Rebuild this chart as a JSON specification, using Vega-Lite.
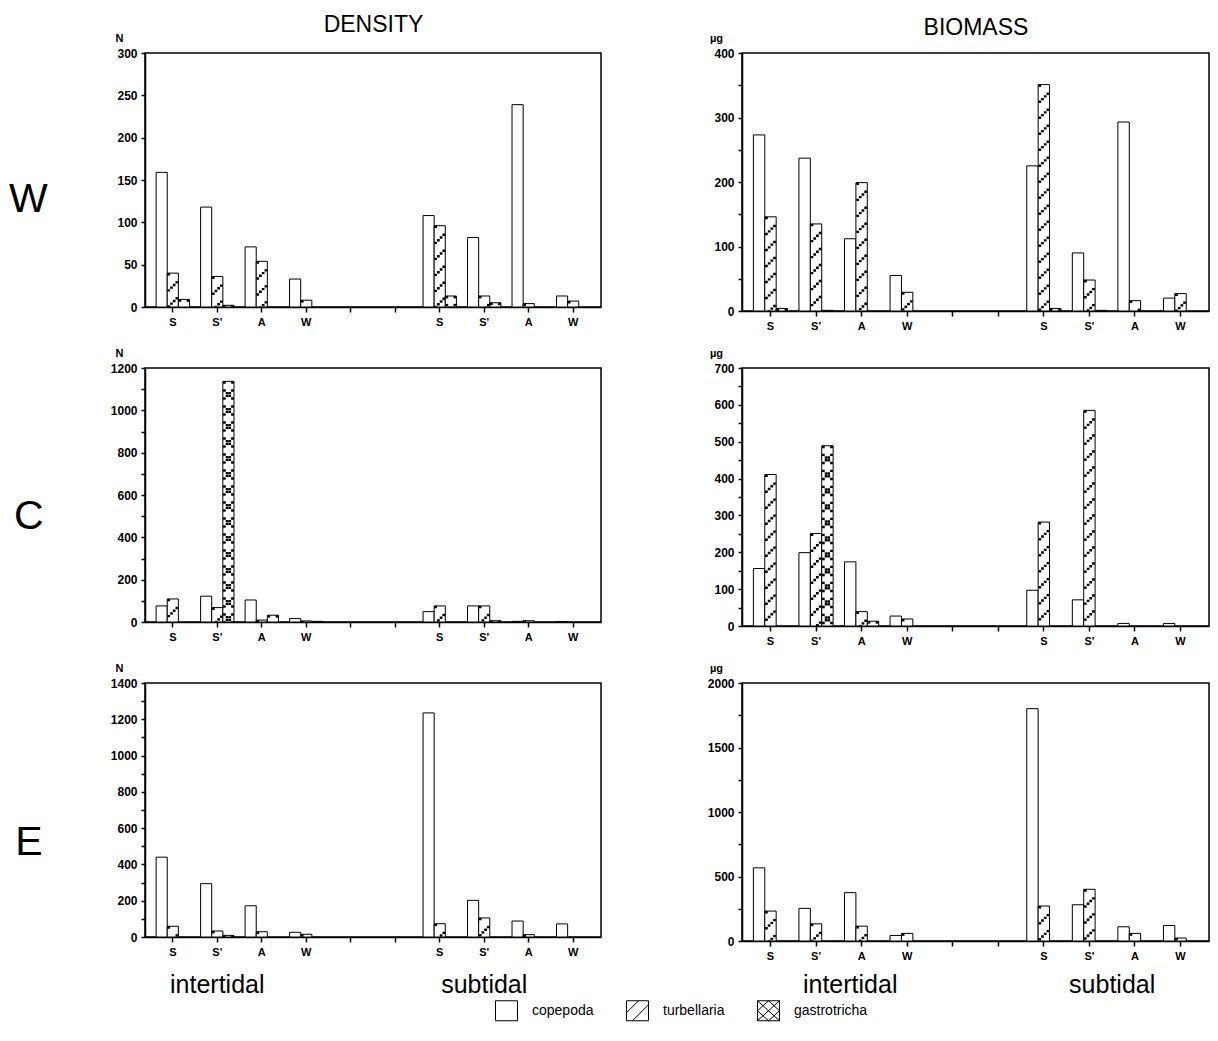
{
"$schema": "https://vega.github.io/schema/vega-lite/v6.json",
"background": "white",
"padding": {"left": 8, "top": 12, "right": 8, "bottom": 10},
"columns": 2,
"spacing": {"row": 57, "column": 130},
"bounds": "flush",
"align": "all",
"datasets": {
"DW": [
{"key":"I|S|c","taxon":"copepoda","value":159},{"key":"I|S|t","taxon":"turbellaria","value":40},{"key":"I|S|g","taxon":"gastrotricha","value":9},
{"key":"I|S'|c","taxon":"copepoda","value":118},{"key":"I|S'|t","taxon":"turbellaria","value":36},{"key":"I|S'|g","taxon":"gastrotricha","value":2},
{"key":"I|A|c","taxon":"copepoda","value":71},{"key":"I|A|t","taxon":"turbellaria","value":54},
{"key":"I|W|c","taxon":"copepoda","value":33},{"key":"I|W|t","taxon":"turbellaria","value":8},
{"key":"U|S|c","taxon":"copepoda","value":108},{"key":"U|S|t","taxon":"turbellaria","value":96},{"key":"U|S|g","taxon":"gastrotricha","value":13},
{"key":"U|S'|c","taxon":"copepoda","value":82},{"key":"U|S'|t","taxon":"turbellaria","value":13},{"key":"U|S'|g","taxon":"gastrotricha","value":5},
{"key":"U|A|c","taxon":"copepoda","value":239},{"key":"U|A|t","taxon":"turbellaria","value":4},
{"key":"U|W|c","taxon":"copepoda","value":13},{"key":"U|W|t","taxon":"turbellaria","value":7}
],
"DC": [
{"key":"I|S|c","taxon":"copepoda","value":76},{"key":"I|S|t","taxon":"turbellaria","value":109},
{"key":"I|S'|c","taxon":"copepoda","value":122},{"key":"I|S'|t","taxon":"turbellaria","value":68},{"key":"I|S'|g","taxon":"gastrotricha","value":1137},
{"key":"I|A|c","taxon":"copepoda","value":104},{"key":"I|A|t","taxon":"turbellaria","value":9},{"key":"I|A|g","taxon":"gastrotricha","value":32},
{"key":"I|W|c","taxon":"copepoda","value":16},{"key":"I|W|t","taxon":"turbellaria","value":5},{"key":"I|W|g","taxon":"gastrotricha","value":3},
{"key":"U|S|c","taxon":"copepoda","value":49},{"key":"U|S|t","taxon":"turbellaria","value":76},
{"key":"U|S'|c","taxon":"copepoda","value":76},{"key":"U|S'|t","taxon":"turbellaria","value":76},{"key":"U|S'|g","taxon":"gastrotricha","value":6},
{"key":"U|A|c","taxon":"copepoda","value":3},{"key":"U|A|t","taxon":"turbellaria","value":6},
{"key":"U|W|c","taxon":"copepoda","value":2}
],
"DE": [
{"key":"I|S|c","taxon":"copepoda","value":440},{"key":"I|S|t","taxon":"turbellaria","value":59},
{"key":"I|S'|c","taxon":"copepoda","value":294},{"key":"I|S'|t","taxon":"turbellaria","value":33},{"key":"I|S'|g","taxon":"gastrotricha","value":9},
{"key":"I|A|c","taxon":"copepoda","value":172},{"key":"I|A|t","taxon":"turbellaria","value":29},
{"key":"I|W|c","taxon":"copepoda","value":26},{"key":"I|W|t","taxon":"turbellaria","value":15},
{"key":"U|S|c","taxon":"copepoda","value":1235},{"key":"U|S|t","taxon":"turbellaria","value":73},
{"key":"U|S'|c","taxon":"copepoda","value":202},{"key":"U|S'|t","taxon":"turbellaria","value":105},
{"key":"U|A|c","taxon":"copepoda","value":88},{"key":"U|A|t","taxon":"turbellaria","value":13},
{"key":"U|W|c","taxon":"copepoda","value":72},
{"key":"I|S'|t","taxon":"zone","value":0,"label":"intertidal"},{"key":"U|S'|t","taxon":"zone","value":0,"label":"subtidal"}
],
"BW": [
{"key":"I|S|c","taxon":"copepoda","value":273},{"key":"I|S|t","taxon":"turbellaria","value":146},{"key":"I|S|g","taxon":"gastrotricha","value":4},
{"key":"I|S'|c","taxon":"copepoda","value":237},{"key":"I|S'|t","taxon":"turbellaria","value":135},{"key":"I|S'|g","taxon":"gastrotricha","value":1},
{"key":"I|A|c","taxon":"copepoda","value":112},{"key":"I|A|t","taxon":"turbellaria","value":199},
{"key":"I|W|c","taxon":"copepoda","value":55},{"key":"I|W|t","taxon":"turbellaria","value":29},
{"key":"U|S|c","taxon":"copepoda","value":225},{"key":"U|S|t","taxon":"turbellaria","value":351},{"key":"U|S|g","taxon":"gastrotricha","value":4},
{"key":"U|S'|c","taxon":"copepoda","value":90},{"key":"U|S'|t","taxon":"turbellaria","value":48},{"key":"U|S'|g","taxon":"gastrotricha","value":1},
{"key":"U|A|c","taxon":"copepoda","value":293},{"key":"U|A|t","taxon":"turbellaria","value":16},
{"key":"U|W|c","taxon":"copepoda","value":20},{"key":"U|W|t","taxon":"turbellaria","value":27}
],
"BC": [
{"key":"I|S|c","taxon":"copepoda","value":156},{"key":"I|S|t","taxon":"turbellaria","value":411},
{"key":"I|S'|c","taxon":"copepoda","value":199},{"key":"I|S'|t","taxon":"turbellaria","value":251},{"key":"I|S'|g","taxon":"gastrotricha","value":489},
{"key":"I|A|c","taxon":"copepoda","value":174},{"key":"I|A|t","taxon":"turbellaria","value":39},{"key":"I|A|g","taxon":"gastrotricha","value":13},
{"key":"I|W|c","taxon":"copepoda","value":27},{"key":"I|W|t","taxon":"turbellaria","value":19},
{"key":"U|S|c","taxon":"copepoda","value":97},{"key":"U|S|t","taxon":"turbellaria","value":282},
{"key":"U|S'|c","taxon":"copepoda","value":71},{"key":"U|S'|t","taxon":"turbellaria","value":585},
{"key":"U|A|c","taxon":"copepoda","value":7},
{"key":"U|W|c","taxon":"copepoda","value":7}
],
"BE": [
{"key":"I|S|c","taxon":"copepoda","value":567},{"key":"I|S|t","taxon":"turbellaria","value":232},
{"key":"I|S'|c","taxon":"copepoda","value":253},{"key":"I|S'|t","taxon":"turbellaria","value":133},
{"key":"I|A|c","taxon":"copepoda","value":375},{"key":"I|A|t","taxon":"turbellaria","value":115},
{"key":"I|W|c","taxon":"copepoda","value":43},{"key":"I|W|t","taxon":"turbellaria","value":59},
{"key":"U|S|c","taxon":"copepoda","value":1801},{"key":"U|S|t","taxon":"turbellaria","value":271},
{"key":"U|S'|c","taxon":"copepoda","value":281},{"key":"U|S'|t","taxon":"turbellaria","value":401},
{"key":"U|A|c","taxon":"copepoda","value":110},{"key":"U|A|t","taxon":"turbellaria","value":59},
{"key":"U|W|c","taxon":"copepoda","value":120},{"key":"U|W|t","taxon":"turbellaria","value":23},
{"key":"I|A|c","taxon":"zone","value":0,"label":"intertidal"},{"key":"U|S'|x","taxon":"zone","value":0,"label":"subtidal"}
]
},
"concat": [
{
"width": 456, "height": 254,
"title": {"text": "W", "orient": "left", "angle": 0, "fontSize": 41, "fontWeight": "normal", "offset": 48, "align": "center", "baseline": "middle", "dy": 20},
"data": {"name": "DW"},
"encoding": {
"x": {"field": "key", "type": "nominal", "scale": {"domain": ["I|S|c","I|S|t","I|S|g","I|S|x","I|S'|c","I|S'|t","I|S'|g","I|S'|x","I|A|c","I|A|t","I|A|g","I|A|x","I|W|c","I|W|t","I|W|g","I|W|x","G|1|c","G|1|t","G|1|g","G|1|x","G|2|c","G|2|t","G|2|g","G|2|x","U|S|c","U|S|t","U|S|g","U|S|x","U|S'|c","U|S'|t","U|S'|g","U|S'|x","U|A|c","U|A|t","U|A|g","U|A|x","U|W|c","U|W|t","U|W|g"], "paddingInner": 0, "paddingOuter": 1.3},
 "axis": {"values": ["I|S|t","I|S'|t","I|A|t","I|W|t","G|1|t","G|2|t","U|S|t","U|S'|t","U|A|t","U|W|t"], "labelExpr": "indexof(datum.value,'G')==0 ? '' : split(datum.value,'|')[1]", "title": "DENSITY", "titleY": -276, "titleFontSize": 23, "titleFontWeight": "normal", "titleBaseline": "alphabetic"}},
"y": {"field": "value", "type": "quantitative", "scale": {"domain": [0, 300], "nice": false},
 "axis": {"values": [0,50,100,150,200,250,300], "format": "d", "title": "N", "titleAngle": 0, "titleX": -26, "titleY": -12, "titleAlign": "center", "titleBaseline": "alphabetic", "titleFontSize": 11, "titleFontWeight": "bold"}}
},
"layer": [
{"mark": {"type": "bar", "fill": "white", "stroke": "black", "strokeWidth": 1}},
{"transform": [{"filter": "datum.taxon == 'turbellaria' || datum.taxon == 'gastrotricha'"}], "mark": {"type": "rule", "color": "black", "strokeWidth": 2.7, "strokeCap": "butt", "strokeDash": [2.4, 13.6], "strokeDashOffset": 0, "xOffset": -4.05}, "encoding": {"y2": {"datum": 0}}},
{"transform": [{"filter": "datum.taxon == 'turbellaria' || datum.taxon == 'gastrotricha'"}], "mark": {"type": "rule", "color": "black", "strokeWidth": 2.7, "strokeCap": "butt", "strokeDash": [2.4, 13.6], "strokeDashOffset": 2.7, "xOffset": -1.35}, "encoding": {"y2": {"datum": 0}}},
{"transform": [{"filter": "datum.taxon == 'turbellaria' || datum.taxon == 'gastrotricha'"}], "mark": {"type": "rule", "color": "black", "strokeWidth": 2.7, "strokeCap": "butt", "strokeDash": [2.4, 13.6], "strokeDashOffset": 5.4, "xOffset": 1.35}, "encoding": {"y2": {"datum": 0}}},
{"transform": [{"filter": "datum.taxon == 'turbellaria' || datum.taxon == 'gastrotricha'"}], "mark": {"type": "rule", "color": "black", "strokeWidth": 2.7, "strokeCap": "butt", "strokeDash": [2.4, 13.6], "strokeDashOffset": 8.1, "xOffset": 4.05}, "encoding": {"y2": {"datum": 0}}},
{"transform": [{"filter": "datum.taxon == 'gastrotricha'"}], "mark": {"type": "rule", "color": "black", "strokeWidth": 2.7, "strokeCap": "butt", "strokeDash": [2.4, 13.6], "strokeDashOffset": 8.1, "xOffset": -4.05}, "encoding": {"y2": {"datum": 0}}},
{"transform": [{"filter": "datum.taxon == 'gastrotricha'"}], "mark": {"type": "rule", "color": "black", "strokeWidth": 2.7, "strokeCap": "butt", "strokeDash": [2.4, 13.6], "strokeDashOffset": 5.4, "xOffset": -1.35}, "encoding": {"y2": {"datum": 0}}},
{"transform": [{"filter": "datum.taxon == 'gastrotricha'"}], "mark": {"type": "rule", "color": "black", "strokeWidth": 2.7, "strokeCap": "butt", "strokeDash": [2.4, 13.6], "strokeDashOffset": 2.7, "xOffset": 1.35}, "encoding": {"y2": {"datum": 0}}},
{"transform": [{"filter": "datum.taxon == 'gastrotricha'"}], "mark": {"type": "rule", "color": "black", "strokeWidth": 2.7, "strokeCap": "butt", "strokeDash": [2.4, 13.6], "strokeDashOffset": 0, "xOffset": 4.05}, "encoding": {"y2": {"datum": 0}}}
]
},
{
"width": 467, "height": 258,
"data": {"name": "BW"},
"encoding": {
"x": {"field": "key", "type": "nominal", "scale": {"domain": ["I|S|c","I|S|t","I|S|g","I|S|x","I|S'|c","I|S'|t","I|S'|g","I|S'|x","I|A|c","I|A|t","I|A|g","I|A|x","I|W|c","I|W|t","I|W|g","I|W|x","G|1|c","G|1|t","G|1|g","G|1|x","G|2|c","G|2|t","G|2|g","G|2|x","U|S|c","U|S|t","U|S|g","U|S|x","U|S'|c","U|S'|t","U|S'|g","U|S'|x","U|A|c","U|A|t","U|A|g","U|A|x","U|W|c","U|W|t","U|W|g"], "paddingInner": 0, "paddingOuter": 1.3},
 "axis": {"values": ["I|S|t","I|S'|t","I|A|t","I|W|t","G|1|t","G|2|t","U|S|t","U|S'|t","U|A|t","U|W|t"], "labelExpr": "indexof(datum.value,'G')==0 ? '' : split(datum.value,'|')[1]", "title": "BIOMASS", "titleY": -277, "titleFontSize": 23, "titleFontWeight": "normal", "titleBaseline": "alphabetic"}},
"y": {"field": "value", "type": "quantitative", "scale": {"domain": [0, 400], "nice": false},
 "axis": {"values": [0,50,100,150,200,250,300,350,400], "format": "d", "labelExpr": "datum.value % 100 == 0 ? datum.label : ''", "title": "µg", "titleAngle": 0, "titleX": -26, "titleY": -12, "titleAlign": "center", "titleBaseline": "alphabetic", "titleFontSize": 11, "titleFontWeight": "bold"}}
},
"layer": [
{"mark": {"type": "bar", "fill": "white", "stroke": "black", "strokeWidth": 1}},
{"transform": [{"filter": "datum.taxon == 'turbellaria' || datum.taxon == 'gastrotricha'"}], "mark": {"type": "rule", "color": "black", "strokeWidth": 2.7, "strokeCap": "butt", "strokeDash": [2.4, 13.6], "strokeDashOffset": 0, "xOffset": -4.05}, "encoding": {"y2": {"datum": 0}}},
{"transform": [{"filter": "datum.taxon == 'turbellaria' || datum.taxon == 'gastrotricha'"}], "mark": {"type": "rule", "color": "black", "strokeWidth": 2.7, "strokeCap": "butt", "strokeDash": [2.4, 13.6], "strokeDashOffset": 2.7, "xOffset": -1.35}, "encoding": {"y2": {"datum": 0}}},
{"transform": [{"filter": "datum.taxon == 'turbellaria' || datum.taxon == 'gastrotricha'"}], "mark": {"type": "rule", "color": "black", "strokeWidth": 2.7, "strokeCap": "butt", "strokeDash": [2.4, 13.6], "strokeDashOffset": 5.4, "xOffset": 1.35}, "encoding": {"y2": {"datum": 0}}},
{"transform": [{"filter": "datum.taxon == 'turbellaria' || datum.taxon == 'gastrotricha'"}], "mark": {"type": "rule", "color": "black", "strokeWidth": 2.7, "strokeCap": "butt", "strokeDash": [2.4, 13.6], "strokeDashOffset": 8.1, "xOffset": 4.05}, "encoding": {"y2": {"datum": 0}}},
{"transform": [{"filter": "datum.taxon == 'gastrotricha'"}], "mark": {"type": "rule", "color": "black", "strokeWidth": 2.7, "strokeCap": "butt", "strokeDash": [2.4, 13.6], "strokeDashOffset": 8.1, "xOffset": -4.05}, "encoding": {"y2": {"datum": 0}}},
{"transform": [{"filter": "datum.taxon == 'gastrotricha'"}], "mark": {"type": "rule", "color": "black", "strokeWidth": 2.7, "strokeCap": "butt", "strokeDash": [2.4, 13.6], "strokeDashOffset": 5.4, "xOffset": -1.35}, "encoding": {"y2": {"datum": 0}}},
{"transform": [{"filter": "datum.taxon == 'gastrotricha'"}], "mark": {"type": "rule", "color": "black", "strokeWidth": 2.7, "strokeCap": "butt", "strokeDash": [2.4, 13.6], "strokeDashOffset": 2.7, "xOffset": 1.35}, "encoding": {"y2": {"datum": 0}}},
{"transform": [{"filter": "datum.taxon == 'gastrotricha'"}], "mark": {"type": "rule", "color": "black", "strokeWidth": 2.7, "strokeCap": "butt", "strokeDash": [2.4, 13.6], "strokeDashOffset": 0, "xOffset": 4.05}, "encoding": {"y2": {"datum": 0}}}
]
},
{
"width": 456, "height": 254,
"title": {"text": "C", "orient": "left", "angle": 0, "fontSize": 41, "fontWeight": "normal", "offset": 52, "align": "center", "baseline": "middle", "dy": 22},
"data": {"name": "DC"},
"encoding": {
"x": {"field": "key", "type": "nominal", "scale": {"domain": ["I|S|c","I|S|t","I|S|g","I|S|x","I|S'|c","I|S'|t","I|S'|g","I|S'|x","I|A|c","I|A|t","I|A|g","I|A|x","I|W|c","I|W|t","I|W|g","I|W|x","G|1|c","G|1|t","G|1|g","G|1|x","G|2|c","G|2|t","G|2|g","G|2|x","U|S|c","U|S|t","U|S|g","U|S|x","U|S'|c","U|S'|t","U|S'|g","U|S'|x","U|A|c","U|A|t","U|A|g","U|A|x","U|W|c","U|W|t","U|W|g"], "paddingInner": 0, "paddingOuter": 1.3},
 "axis": {"values": ["I|S|t","I|S'|t","I|A|t","I|W|t","G|1|t","G|2|t","U|S|t","U|S'|t","U|A|t","U|W|t"], "labelExpr": "indexof(datum.value,'G')==0 ? '' : split(datum.value,'|')[1]", "title": null}},
"y": {"field": "value", "type": "quantitative", "scale": {"domain": [0, 1200], "nice": false},
 "axis": {"values": [0,100,200,300,400,500,600,700,800,900,1000,1100,1200], "format": "d", "labelExpr": "datum.value % 200 == 0 ? datum.label : ''", "title": "N", "titleAngle": 0, "titleX": -26, "titleY": -12, "titleAlign": "center", "titleBaseline": "alphabetic", "titleFontSize": 11, "titleFontWeight": "bold"}}
},
"layer": [
{"mark": {"type": "bar", "fill": "white", "stroke": "black", "strokeWidth": 1}},
{"transform": [{"filter": "datum.taxon == 'turbellaria' || datum.taxon == 'gastrotricha'"}], "mark": {"type": "rule", "color": "black", "strokeWidth": 2.7, "strokeCap": "butt", "strokeDash": [2.4, 13.6], "strokeDashOffset": 0, "xOffset": -4.05}, "encoding": {"y2": {"datum": 0}}},
{"transform": [{"filter": "datum.taxon == 'turbellaria' || datum.taxon == 'gastrotricha'"}], "mark": {"type": "rule", "color": "black", "strokeWidth": 2.7, "strokeCap": "butt", "strokeDash": [2.4, 13.6], "strokeDashOffset": 2.7, "xOffset": -1.35}, "encoding": {"y2": {"datum": 0}}},
{"transform": [{"filter": "datum.taxon == 'turbellaria' || datum.taxon == 'gastrotricha'"}], "mark": {"type": "rule", "color": "black", "strokeWidth": 2.7, "strokeCap": "butt", "strokeDash": [2.4, 13.6], "strokeDashOffset": 5.4, "xOffset": 1.35}, "encoding": {"y2": {"datum": 0}}},
{"transform": [{"filter": "datum.taxon == 'turbellaria' || datum.taxon == 'gastrotricha'"}], "mark": {"type": "rule", "color": "black", "strokeWidth": 2.7, "strokeCap": "butt", "strokeDash": [2.4, 13.6], "strokeDashOffset": 8.1, "xOffset": 4.05}, "encoding": {"y2": {"datum": 0}}},
{"transform": [{"filter": "datum.taxon == 'gastrotricha'"}], "mark": {"type": "rule", "color": "black", "strokeWidth": 2.7, "strokeCap": "butt", "strokeDash": [2.4, 13.6], "strokeDashOffset": 8.1, "xOffset": -4.05}, "encoding": {"y2": {"datum": 0}}},
{"transform": [{"filter": "datum.taxon == 'gastrotricha'"}], "mark": {"type": "rule", "color": "black", "strokeWidth": 2.7, "strokeCap": "butt", "strokeDash": [2.4, 13.6], "strokeDashOffset": 5.4, "xOffset": -1.35}, "encoding": {"y2": {"datum": 0}}},
{"transform": [{"filter": "datum.taxon == 'gastrotricha'"}], "mark": {"type": "rule", "color": "black", "strokeWidth": 2.7, "strokeCap": "butt", "strokeDash": [2.4, 13.6], "strokeDashOffset": 2.7, "xOffset": 1.35}, "encoding": {"y2": {"datum": 0}}},
{"transform": [{"filter": "datum.taxon == 'gastrotricha'"}], "mark": {"type": "rule", "color": "black", "strokeWidth": 2.7, "strokeCap": "butt", "strokeDash": [2.4, 13.6], "strokeDashOffset": 0, "xOffset": 4.05}, "encoding": {"y2": {"datum": 0}}}
]
},
{
"width": 467, "height": 258,
"data": {"name": "BC"},
"encoding": {
"x": {"field": "key", "type": "nominal", "scale": {"domain": ["I|S|c","I|S|t","I|S|g","I|S|x","I|S'|c","I|S'|t","I|S'|g","I|S'|x","I|A|c","I|A|t","I|A|g","I|A|x","I|W|c","I|W|t","I|W|g","I|W|x","G|1|c","G|1|t","G|1|g","G|1|x","G|2|c","G|2|t","G|2|g","G|2|x","U|S|c","U|S|t","U|S|g","U|S|x","U|S'|c","U|S'|t","U|S'|g","U|S'|x","U|A|c","U|A|t","U|A|g","U|A|x","U|W|c","U|W|t","U|W|g"], "paddingInner": 0, "paddingOuter": 1.3},
 "axis": {"values": ["I|S|t","I|S'|t","I|A|t","I|W|t","G|1|t","G|2|t","U|S|t","U|S'|t","U|A|t","U|W|t"], "labelExpr": "indexof(datum.value,'G')==0 ? '' : split(datum.value,'|')[1]", "title": null}},
"y": {"field": "value", "type": "quantitative", "scale": {"domain": [0, 700], "nice": false},
 "axis": {"values": [0,50,100,150,200,250,300,350,400,450,500,550,600,650,700], "format": "d", "labelExpr": "datum.value % 100 == 0 ? datum.label : ''", "title": "µg", "titleAngle": 0, "titleX": -26, "titleY": -12, "titleAlign": "center", "titleBaseline": "alphabetic", "titleFontSize": 11, "titleFontWeight": "bold"}}
},
"layer": [
{"mark": {"type": "bar", "fill": "white", "stroke": "black", "strokeWidth": 1}},
{"transform": [{"filter": "datum.taxon == 'turbellaria' || datum.taxon == 'gastrotricha'"}], "mark": {"type": "rule", "color": "black", "strokeWidth": 2.7, "strokeCap": "butt", "strokeDash": [2.4, 13.6], "strokeDashOffset": 0, "xOffset": -4.05}, "encoding": {"y2": {"datum": 0}}},
{"transform": [{"filter": "datum.taxon == 'turbellaria' || datum.taxon == 'gastrotricha'"}], "mark": {"type": "rule", "color": "black", "strokeWidth": 2.7, "strokeCap": "butt", "strokeDash": [2.4, 13.6], "strokeDashOffset": 2.7, "xOffset": -1.35}, "encoding": {"y2": {"datum": 0}}},
{"transform": [{"filter": "datum.taxon == 'turbellaria' || datum.taxon == 'gastrotricha'"}], "mark": {"type": "rule", "color": "black", "strokeWidth": 2.7, "strokeCap": "butt", "strokeDash": [2.4, 13.6], "strokeDashOffset": 5.4, "xOffset": 1.35}, "encoding": {"y2": {"datum": 0}}},
{"transform": [{"filter": "datum.taxon == 'turbellaria' || datum.taxon == 'gastrotricha'"}], "mark": {"type": "rule", "color": "black", "strokeWidth": 2.7, "strokeCap": "butt", "strokeDash": [2.4, 13.6], "strokeDashOffset": 8.1, "xOffset": 4.05}, "encoding": {"y2": {"datum": 0}}},
{"transform": [{"filter": "datum.taxon == 'gastrotricha'"}], "mark": {"type": "rule", "color": "black", "strokeWidth": 2.7, "strokeCap": "butt", "strokeDash": [2.4, 13.6], "strokeDashOffset": 8.1, "xOffset": -4.05}, "encoding": {"y2": {"datum": 0}}},
{"transform": [{"filter": "datum.taxon == 'gastrotricha'"}], "mark": {"type": "rule", "color": "black", "strokeWidth": 2.7, "strokeCap": "butt", "strokeDash": [2.4, 13.6], "strokeDashOffset": 5.4, "xOffset": -1.35}, "encoding": {"y2": {"datum": 0}}},
{"transform": [{"filter": "datum.taxon == 'gastrotricha'"}], "mark": {"type": "rule", "color": "black", "strokeWidth": 2.7, "strokeCap": "butt", "strokeDash": [2.4, 13.6], "strokeDashOffset": 2.7, "xOffset": 1.35}, "encoding": {"y2": {"datum": 0}}},
{"transform": [{"filter": "datum.taxon == 'gastrotricha'"}], "mark": {"type": "rule", "color": "black", "strokeWidth": 2.7, "strokeCap": "butt", "strokeDash": [2.4, 13.6], "strokeDashOffset": 0, "xOffset": 4.05}, "encoding": {"y2": {"datum": 0}}}
]
},
{
"width": 456, "height": 254,
"title": {"text": "E", "orient": "left", "angle": 0, "fontSize": 41, "fontWeight": "normal", "offset": 54, "align": "center", "baseline": "middle", "dy": 33},
"data": {"name": "DE"},
"encoding": {
"x": {"field": "key", "type": "nominal", "scale": {"domain": ["I|S|c","I|S|t","I|S|g","I|S|x","I|S'|c","I|S'|t","I|S'|g","I|S'|x","I|A|c","I|A|t","I|A|g","I|A|x","I|W|c","I|W|t","I|W|g","I|W|x","G|1|c","G|1|t","G|1|g","G|1|x","G|2|c","G|2|t","G|2|g","G|2|x","U|S|c","U|S|t","U|S|g","U|S|x","U|S'|c","U|S'|t","U|S'|g","U|S'|x","U|A|c","U|A|t","U|A|g","U|A|x","U|W|c","U|W|t","U|W|g"], "paddingInner": 0, "paddingOuter": 1.3},
 "axis": {"values": ["I|S|t","I|S'|t","I|A|t","I|W|t","G|1|t","G|2|t","U|S|t","U|S'|t","U|A|t","U|W|t"], "labelExpr": "indexof(datum.value,'G')==0 ? '' : split(datum.value,'|')[1]", "title": null}},
"y": {"field": "value", "type": "quantitative", "scale": {"domain": [0, 1400], "nice": false},
 "axis": {"values": [0,100,200,300,400,500,600,700,800,900,1000,1100,1200,1300,1400], "format": "d", "labelExpr": "datum.value % 200 == 0 ? datum.label : ''", "title": "N", "titleAngle": 0, "titleX": -26, "titleY": -12, "titleAlign": "center", "titleBaseline": "alphabetic", "titleFontSize": 11, "titleFontWeight": "bold"}}
},
"layer": [
{"transform": [{"filter": "datum.taxon != 'zone'"}], "mark": {"type": "bar", "fill": "white", "stroke": "black", "strokeWidth": 1}},
{"transform": [{"filter": "datum.taxon == 'turbellaria' || datum.taxon == 'gastrotricha'"}], "mark": {"type": "rule", "color": "black", "strokeWidth": 2.7, "strokeCap": "butt", "strokeDash": [2.4, 13.6], "strokeDashOffset": 0, "xOffset": -4.05}, "encoding": {"y2": {"datum": 0}}},
{"transform": [{"filter": "datum.taxon == 'turbellaria' || datum.taxon == 'gastrotricha'"}], "mark": {"type": "rule", "color": "black", "strokeWidth": 2.7, "strokeCap": "butt", "strokeDash": [2.4, 13.6], "strokeDashOffset": 2.7, "xOffset": -1.35}, "encoding": {"y2": {"datum": 0}}},
{"transform": [{"filter": "datum.taxon == 'turbellaria' || datum.taxon == 'gastrotricha'"}], "mark": {"type": "rule", "color": "black", "strokeWidth": 2.7, "strokeCap": "butt", "strokeDash": [2.4, 13.6], "strokeDashOffset": 5.4, "xOffset": 1.35}, "encoding": {"y2": {"datum": 0}}},
{"transform": [{"filter": "datum.taxon == 'turbellaria' || datum.taxon == 'gastrotricha'"}], "mark": {"type": "rule", "color": "black", "strokeWidth": 2.7, "strokeCap": "butt", "strokeDash": [2.4, 13.6], "strokeDashOffset": 8.1, "xOffset": 4.05}, "encoding": {"y2": {"datum": 0}}},
{"transform": [{"filter": "datum.taxon == 'gastrotricha'"}], "mark": {"type": "rule", "color": "black", "strokeWidth": 2.7, "strokeCap": "butt", "strokeDash": [2.4, 13.6], "strokeDashOffset": 8.1, "xOffset": -4.05}, "encoding": {"y2": {"datum": 0}}},
{"transform": [{"filter": "datum.taxon == 'gastrotricha'"}], "mark": {"type": "rule", "color": "black", "strokeWidth": 2.7, "strokeCap": "butt", "strokeDash": [2.4, 13.6], "strokeDashOffset": 5.4, "xOffset": -1.35}, "encoding": {"y2": {"datum": 0}}},
{"transform": [{"filter": "datum.taxon == 'gastrotricha'"}], "mark": {"type": "rule", "color": "black", "strokeWidth": 2.7, "strokeCap": "butt", "strokeDash": [2.4, 13.6], "strokeDashOffset": 2.7, "xOffset": 1.35}, "encoding": {"y2": {"datum": 0}}},
{"transform": [{"filter": "datum.taxon == 'gastrotricha'"}], "mark": {"type": "rule", "color": "black", "strokeWidth": 2.7, "strokeCap": "butt", "strokeDash": [2.4, 13.6], "strokeDashOffset": 0, "xOffset": 4.05}, "encoding": {"y2": {"datum": 0}}},
{"transform": [{"filter": "datum.taxon == 'zone'"}], "mark": {"type": "text", "fontSize": 25, "dy": 48, "baseline": "middle", "align": "center", "color": "black"}, "encoding": {"text": {"field": "label", "type": "nominal"}}}
]
},
{
"width": 467, "height": 258,
"data": {"name": "BE"},
"encoding": {
"x": {"field": "key", "type": "nominal", "scale": {"domain": ["I|S|c","I|S|t","I|S|g","I|S|x","I|S'|c","I|S'|t","I|S'|g","I|S'|x","I|A|c","I|A|t","I|A|g","I|A|x","I|W|c","I|W|t","I|W|g","I|W|x","G|1|c","G|1|t","G|1|g","G|1|x","G|2|c","G|2|t","G|2|g","G|2|x","U|S|c","U|S|t","U|S|g","U|S|x","U|S'|c","U|S'|t","U|S'|g","U|S'|x","U|A|c","U|A|t","U|A|g","U|A|x","U|W|c","U|W|t","U|W|g"], "paddingInner": 0, "paddingOuter": 1.3},
 "axis": {"values": ["I|S|t","I|S'|t","I|A|t","I|W|t","G|1|t","G|2|t","U|S|t","U|S'|t","U|A|t","U|W|t"], "labelExpr": "indexof(datum.value,'G')==0 ? '' : split(datum.value,'|')[1]", "title": null}},
"y": {"field": "value", "type": "quantitative", "scale": {"domain": [0, 2000], "nice": false},
 "axis": {"values": [0,250,500,750,1000,1250,1500,1750,2000], "format": "d", "labelExpr": "datum.value % 500 == 0 ? datum.label : ''", "title": "µg", "titleAngle": 0, "titleX": -26, "titleY": -12, "titleAlign": "center", "titleBaseline": "alphabetic", "titleFontSize": 11, "titleFontWeight": "bold"}}
},
"layer": [
{"transform": [{"filter": "datum.taxon != 'zone'"}], "mark": {"type": "bar", "fill": "white", "stroke": "black", "strokeWidth": 1}},
{"transform": [{"filter": "datum.taxon == 'turbellaria' || datum.taxon == 'gastrotricha'"}], "mark": {"type": "rule", "color": "black", "strokeWidth": 2.7, "strokeCap": "butt", "strokeDash": [2.4, 13.6], "strokeDashOffset": 0, "xOffset": -4.05}, "encoding": {"y2": {"datum": 0}}},
{"transform": [{"filter": "datum.taxon == 'turbellaria' || datum.taxon == 'gastrotricha'"}], "mark": {"type": "rule", "color": "black", "strokeWidth": 2.7, "strokeCap": "butt", "strokeDash": [2.4, 13.6], "strokeDashOffset": 2.7, "xOffset": -1.35}, "encoding": {"y2": {"datum": 0}}},
{"transform": [{"filter": "datum.taxon == 'turbellaria' || datum.taxon == 'gastrotricha'"}], "mark": {"type": "rule", "color": "black", "strokeWidth": 2.7, "strokeCap": "butt", "strokeDash": [2.4, 13.6], "strokeDashOffset": 5.4, "xOffset": 1.35}, "encoding": {"y2": {"datum": 0}}},
{"transform": [{"filter": "datum.taxon == 'turbellaria' || datum.taxon == 'gastrotricha'"}], "mark": {"type": "rule", "color": "black", "strokeWidth": 2.7, "strokeCap": "butt", "strokeDash": [2.4, 13.6], "strokeDashOffset": 8.1, "xOffset": 4.05}, "encoding": {"y2": {"datum": 0}}},
{"transform": [{"filter": "datum.taxon == 'zone'"}], "mark": {"type": "text", "fontSize": 25, "dy": 44, "baseline": "middle", "align": "center", "color": "black"}, "encoding": {"text": {"field": "label", "type": "nominal"}}},
{"transform": [{"filter": "datum.value < 0"}], "mark": {"type": "point", "filled": false, "color": "black", "strokeWidth": 1},
 "encoding": {"shape": {"field": "taxon", "type": "nominal",
  "scale": {"domain": ["copepoda", "turbellaria", "gastrotricha"], "range": ["M-1.1,-1H1.1V1H-1.1Z", "M-1.1,-1H1.1V1H-1.1Z M-1.1,0.2L0.1,-1 M-0.5,1L1.1,-0.6", "M-1.1,-1H1.1V1H-1.1Z M-1.1,-1L1.1,1 M1.1,-1L-1.1,1 M0,-1L1.1,0L0,1L-1.1,0Z"]},
  "legend": {"orient": "none", "legendX": 351, "legendY": 947, "direction": "horizontal", "title": null, "symbolSize": 400, "symbolStrokeColor": "black", "symbolStrokeWidth": 1, "symbolOpacity": 1, "labelFontSize": 14, "labelColor": "black", "labelOffset": 15, "columnPadding": 30, "labelLimit": 300}}}}
]
}
],
"config": {
 "font": "Liberation Sans",
 "view": {"stroke": "black", "strokeWidth": 1.5},
 "axis": {"grid": false, "domainColor": "black", "domainWidth": 1.5, "tickColor": "black", "tickWidth": 1.5, "labelColor": "black", "labelFontWeight": "bold", "titleColor": "black", "labelFont": "Liberation Sans", "titleFont": "Liberation Sans"},
 "axisX": {"tickSize": 5, "labelPadding": 4, "labelAngle": 0, "labelFontSize": 11},
 "axisY": {"tickSize": 4, "labelPadding": 4, "labelFontSize": 12},
 "title": {"color": "black", "font": "Liberation Sans"},
 "legend": {"labelFont": "Liberation Sans"}
}
}
